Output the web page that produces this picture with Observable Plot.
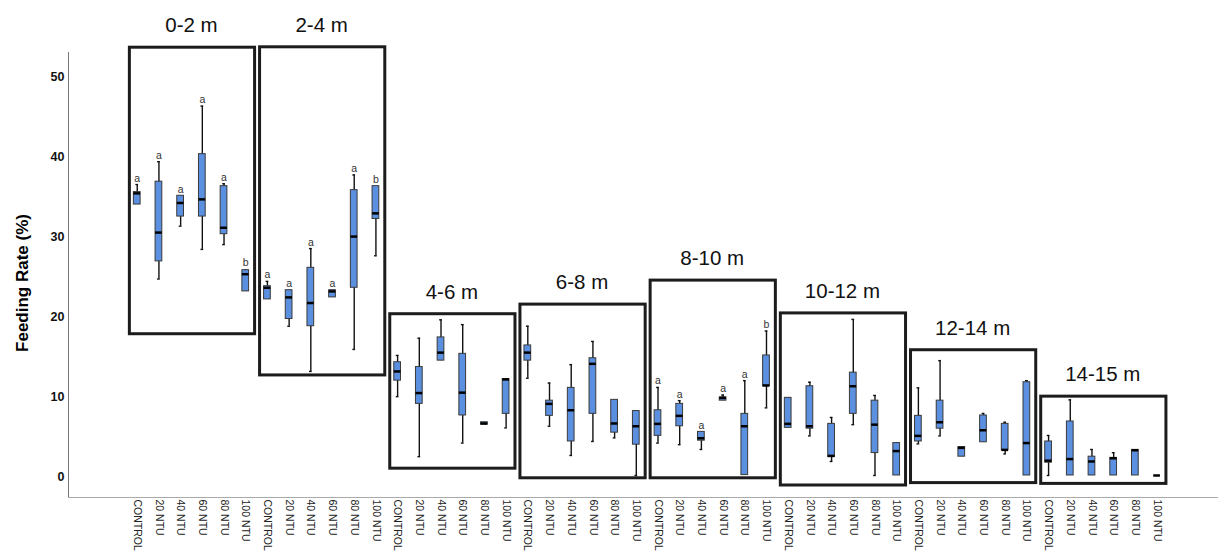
<!DOCTYPE html>
<html>
<head>
<meta charset="utf-8">
<script src="https://cdn.jsdelivr.net/npm/d3@7"></script>
<script src="https://cdn.jsdelivr.net/npm/@observablehq/plot@0.6"></script>
<style>
  html, body { margin: 0; padding: 0; background: #fff; }
  #chart svg { display: block; }
</style>
</head>
<body>
<div id="chart"></div>
<script>
const depths = ["0-2 m","2-4 m","4-6 m","6-8 m","8-10 m","10-12 m","12-14 m","14-15 m"];
const treatments = ["CONTROL","20 NTU","40 NTU","60 NTU","80 NTU","100 NTU"];
const yTicks = [0, 10, 20, 30, 40, 50];

const whiskerLow = [
  [34.1, 24.8, 31.4, 28.5, 29.1, 23.25],
  [22.25, 18.9, 13.25, 22.5, 16.0, 27.7],
  [10.1, 2.6, 14.6, 4.3, 6.6, 6.2],
  [12.4, 6.4, 2.75, 4.5, 4.95, 0.25],
  [4.3, 4.1, 3.5, 9.6, 0.3, 8.7],
  [6.2, 5.2, 2.0, 6.6, 0.25, 0.25],
  [4.2, 5.2, 2.6, 4.4, 2.95, 0.25],
  [0.25, 0.25, 0.25, 0.25, 0.25, 0.25]
];
const q1 = [
  [34.1, 27.0, 32.6, 32.6, 30.4, 23.25],
  [22.25, 19.8, 18.9, 22.5, 23.7, 32.3],
  [12.1, 9.2, 14.6, 7.75, 6.6, 7.95],
  [14.6, 7.7, 4.5, 7.95, 5.6, 4.1],
  [5.2, 6.4, 4.6, 9.6, 0.3, 11.4],
  [6.2, 6.1, 2.55, 7.95, 3.05, 0.25],
  [4.5, 6.1, 2.6, 4.4, 3.4, 0.25],
  [1.85, 0.25, 0.25, 0.25, 0.25, 0.25]
];
const median = [
  [35.5, 30.6, 34.3, 34.75, 31.2, 25.4],
  [23.7, 22.5, 21.8, 23.25, 30.1, 33.0],
  [13.25, 10.55, 15.6, 10.6, 6.75, 12.25],
  [15.6, 9.2, 8.4, 14.2, 6.75, 6.4],
  [6.7, 7.7, 4.9, 9.95, 6.4, 11.5],
  [6.7, 6.4, 2.7, 11.4, 6.6, 3.3],
  [5.2, 6.9, 3.7, 5.9, 3.45, 4.3],
  [2.1, 2.3, 2.0, 2.4, 3.4, 0.25]
];
const q3 = [
  [35.66, 36.96, 35.2, 40.4, 36.4, 25.9],
  [23.9, 23.4, 26.2, 23.4, 35.9, 36.4],
  [14.4, 13.8, 17.5, 15.45, 6.9, 12.3],
  [16.5, 9.6, 11.2, 14.9, 9.7, 8.3],
  [8.4, 9.2, 5.7, 10.0, 7.95, 15.25],
  [9.95, 11.4, 6.7, 13.1, 9.6, 4.3],
  [7.7, 9.6, 3.8, 7.75, 6.7, 11.9],
  [4.5, 7.0, 2.6, 2.45, 3.45, 0.25]
];
const whiskerHigh = [
  [36.6, 39.46, 35.2, 46.4, 36.7, 26.0],
  [24.5, 23.4, 28.6, 23.4, 37.8, 36.4],
  [15.25, 17.4, 19.7, 19.1, 6.9, 12.3],
  [18.9, 11.8, 14.1, 17.0, 9.7, 8.3],
  [11.25, 9.6, 5.7, 10.3, 12.1, 18.3],
  [9.95, 11.9, 7.5, 19.75, 10.25, 4.3],
  [11.2, 14.6, 3.8, 8.0, 6.9, 12.1],
  [5.25, 9.7, 3.5, 3.1, 3.45, 0.25]
];
const letters = [
  ["a","a","a","a","a","b"],
  ["a","a","a","a","a","b"],
  null,
  null,
  ["a","a","a","a","a","b"],
  null,
  null,
  null
];
// group frame extents (data units)
const groupTop = [53.7, 53.75, 20.4, 21.6, 24.6, 20.5, 15.9, 10.1];
const groupBottom = [17.9, 12.75, 1.1, -0.1, -0.1, -1.0, -0.7, -0.8];

const key = (d, t) => d + "|" + t;
const keys = depths.flatMap(d => treatments.map(t => key(d, t)));

const boxes = [];
depths.forEach((d, i) => treatments.forEach((t, j) => {
  boxes.push({
    k: key(d, t), lo: whiskerLow[i][j], q1: q1[i][j], med: median[i][j],
    q3: q3[i][j], hi: whiskerHigh[i][j], letter: letters[i] ? letters[i][j] : null
  });
}));
const groups = depths.map((d, i) => ({
  first: key(d, treatments[0]), last: key(d, treatments[5]), mid: key(d, treatments[2]),
  label: d, top: groupTop[i], bottom: groupBottom[i]
}));

const pad = 0.69;
const xRange = [118.4, 1174.9];
const step = (xRange[1] - xRange[0]) / (keys.length + pad);

const chart = Plot.plot({
  width: 1218,
  height: 552,
  marginLeft: 68,
  marginRight: 0,
  marginTop: 52,
  marginBottom: 55,
  style: { fontFamily: "Liberation Sans, Arial, sans-serif", background: "#fff" },
  x: { type: "band", domain: keys, range: xRange, padding: pad },
  y: { domain: [-2.5, 53.1] },
  marks: [
    Plot.frame({ anchor: "left", stroke: "#777", strokeWidth: 1 }),
    Plot.frame({ anchor: "bottom", stroke: "#aaa", strokeWidth: 1.2 }),
    Plot.axisY({
      ticks: yTicks, tickSize: 0, tickPadding: 4, label: null,
      fontSize: 12.5, fontWeight: "bold", fill: "#111",
      style: { fontFamily: "DejaVu Sans", letterSpacing: "1px" }
    }),
    Plot.axisX({
      tickRotate: 90, tickSize: 0, tickPadding: 2, label: null,
      fontSize: 10.5, fill: "#222",
      tickFormat: d => d.split("|")[1]
    }),
    Plot.text(["Feeding Rate (%)"], {
      frameAnchor: "left", rotate: -90, dx: -46, dy: 8, textAnchor: "middle",
      fontSize: 17, fontWeight: "bold", fill: "#000", text: d => d
    }),
    Plot.rect(groups, {
      x1: "first", x2: "last", y1: "bottom", y2: "top",
      fill: "none", stroke: "#1c1c1c", strokeWidth: 3,
      insetLeft: -4, insetRight: -6
    }),
    Plot.text(groups, {
      x: "mid", y: "top", text: "label", dx: step / 2, dy: -22,
      fontSize: 20.5, fill: "#111", lineAnchor: "middle"
    }),
    Plot.ruleX(boxes, { x: "k", y1: "lo", y2: "hi", stroke: "#111", strokeWidth: 1.4 }),
    Plot.tickY(boxes.filter(b => b.hi > b.q3 + 0.1), { x: "k", y: "hi", stroke: "#111", strokeWidth: 1.4, insetLeft: 2, insetRight: 2 }),
    Plot.tickY(boxes.filter(b => b.lo < b.q1 - 0.1), { x: "k", y: "lo", stroke: "#111", strokeWidth: 1.4, insetLeft: 2, insetRight: 2 }),
    Plot.barY(boxes, { x: "k", y1: "q1", y2: "q3", fill: "#5b8fdf", stroke: "#3a3a3a", strokeWidth: 1 }),
    Plot.tickY(boxes, { x: "k", y: "med", stroke: "#000", strokeWidth: 2.5 }),
    Plot.text(boxes.filter(b => b.letter), {
      x: "k", y: "hi", text: "letter", dy: -3, lineAnchor: "bottom",
      fontSize: 10.5, fill: "#333"
    })
  ]
});
document.getElementById("chart").appendChild(chart);
</script>
</body>
</html>
